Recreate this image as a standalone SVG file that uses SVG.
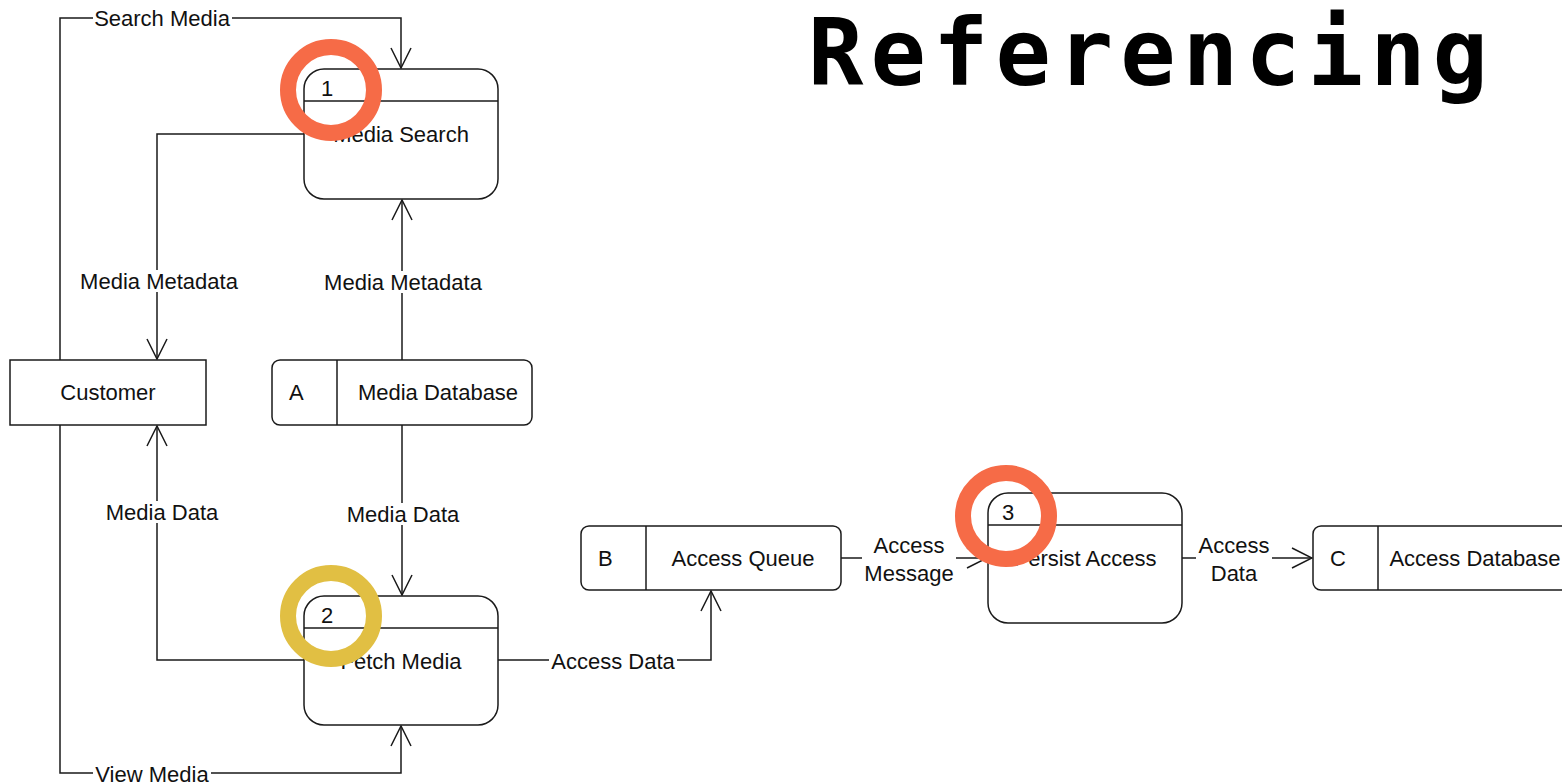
<svg xmlns="http://www.w3.org/2000/svg" width="1562" height="784" viewBox="0 0 1562 784">
<defs>
<style>
.ln{fill:none;stroke:#1a1a1a;stroke-width:1.5}
.bx{fill:#fff;stroke:#1a1a1a;stroke-width:1.5}
.t{font-family:"Liberation Sans",Arial,sans-serif;font-size:22px;fill:#111}
.c{text-anchor:middle;dominant-baseline:central}
.l{dominant-baseline:central}
.bg{fill:#fff}
.ring{fill:none;stroke-width:16}
</style>
<marker id="ah" viewBox="0 0 22 22" refX="21" refY="11" markerWidth="22" markerHeight="22" markerUnits="userSpaceOnUse" orient="auto">
<path d="M1,1 L21,11 L1,21" fill="none" stroke="#1a1a1a" stroke-width="1.5"/>
</marker>
</defs>
<rect width="1562" height="784" fill="#fff"/>

<text x="808" y="85" font-family="DejaVu Sans Mono,monospace" font-weight="bold" font-size="92" textLength="680" lengthAdjust="spacing" fill="#000">Referencing</text>

<g id="connectors">
<path class="ln" d="M60,360 V18 H401 V68" marker-end="url(#ah)"/>
<path class="ln" d="M304,134 H157 V359" marker-end="url(#ah)"/>
<path class="ln" d="M402,360 V200" marker-end="url(#ah)"/>
<path class="ln" d="M402,425 V595" marker-end="url(#ah)"/>
<path class="ln" d="M304,660 H157 V426" marker-end="url(#ah)"/>
<path class="ln" d="M60,425 V773 H401 V726" marker-end="url(#ah)"/>
<path class="ln" d="M498,660 H711 V591" marker-end="url(#ah)"/>
<path class="ln" d="M841,558 H987" marker-end="url(#ah)"/>
<path class="ln" d="M1182,558 H1312" marker-end="url(#ah)"/>
<rect class="bg" x="93" y="7" width="139" height="22"/>
<text class="t c" x="162" y="18">Search Media</text>
<rect class="bg" x="78" y="270" width="162" height="22"/>
<text class="t c" x="159" y="281">Media Metadata</text>
<rect class="bg" x="322" y="271" width="162" height="22"/>
<text class="t c" x="403" y="282">Media Metadata</text>
<rect class="bg" x="104" y="501" width="116" height="22"/>
<text class="t c" x="162" y="512">Media Data</text>
<rect class="bg" x="345" y="503" width="116" height="22"/>
<text class="t c" x="403" y="514">Media Data</text>
<rect class="bg" x="93" y="763" width="118" height="21"/>
<text class="t c" x="152" y="774">View Media</text>
<rect class="bg" x="549" y="650" width="128" height="22"/>
<text class="t c" x="613" y="661">Access Data</text>
<rect class="bg" x="862" y="533" width="94" height="52"/>
<text class="t c" x="909" y="545">Access</text>
<text class="t c" x="909" y="573">Message</text>
<rect class="bg" x="1196" y="533" width="76" height="52"/>
<text class="t c" x="1234" y="545">Access</text>
<text class="t c" x="1234" y="573">Data</text>
</g>

<g id="p1">
<rect class="bx" x="304" y="69" width="194" height="130" rx="20"/>
<line class="ln" x1="304" y1="101" x2="498" y2="101"/>
<text class="t l" x="321" y="88">1</text>
<text class="t c" x="401" y="134">Media Search</text>
</g>

<g id="customer">
<rect class="bx" x="10" y="360" width="196" height="65"/>
<text class="t c" x="108" y="392">Customer</text>
</g>

<g id="dbA">
<rect class="bx" x="272" y="360" width="260" height="65" rx="8"/>
<line class="ln" x1="337" y1="360" x2="337" y2="425"/>
<text class="t l" x="289" y="392">A</text>
<text class="t c" x="438" y="392">Media Database</text>
</g>

<g id="p2">
<rect class="bx" x="304" y="596" width="194" height="129" rx="20"/>
<line class="ln" x1="304" y1="628" x2="498" y2="628"/>
<text class="t l" x="321" y="615">2</text>
<text class="t c" x="401" y="661">Fetch Media</text>
</g>

<g id="dbB">
<rect class="bx" x="581" y="526" width="260" height="64" rx="8"/>
<line class="ln" x1="646" y1="526" x2="646" y2="590"/>
<text class="t l" x="598" y="558">B</text>
<text class="t c" x="743" y="558">Access Queue</text>
</g>

<g id="p3">
<rect class="bx" x="988" y="493" width="194" height="130" rx="20"/>
<line class="ln" x1="988" y1="525" x2="1182" y2="525"/>
<text class="t l" x="1002" y="512">3</text>
<text class="t c" x="1085" y="558">Persist Access</text>
</g>

<g id="dbC">
<rect class="bx" x="1313" y="526" width="260" height="64" rx="8"/>
<line class="ln" x1="1378" y1="526" x2="1378" y2="590"/>
<text class="t l" x="1330" y="558">C</text>
<text class="t c" x="1475" y="558">Access Database</text>
</g>

<g id="highlights">
<circle class="ring" cx="331" cy="90" r="43" stroke="#F66B47"/>
<circle class="ring" cx="331" cy="616" r="43" stroke="#E1BF43"/>
<circle class="ring" cx="1006" cy="516" r="43" stroke="#F66B47"/>
</g>
</svg>
